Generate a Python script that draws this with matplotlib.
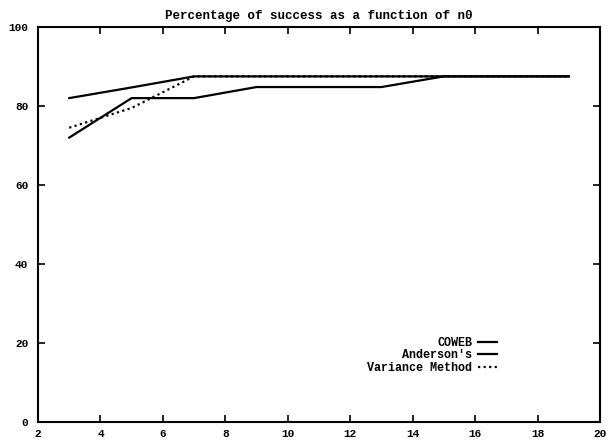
import matplotlib
matplotlib.use("Agg")
import matplotlib.pyplot as plt

n0 = [3, 5, 7, 9, 11, 13, 15, 17, 19]
coweb = [82, 84.7, 87.5, 87.5, 87.5, 87.5, 87.5, 87.5, 87.5]
anderson = [72, 82, 82, 84.8, 84.8, 84.8, 87.5, 87.5, 87.5]
variance = [74.5, 79.5, 87.5, 87.5, 87.5, 87.5, 87.5, 87.5, 87.5]
labels = ["COWEB", "Anderson's", "Variance Method"]
xticks = [2, 4, 6, 8, 10, 12, 14, 16, 18, 20]
yticks = [0, 20, 40, 60, 80, 100]
title = "Percentage of success as a function of n0"

plt.rcParams['font.family'] = ['Liberation Mono', 'DejaVu Sans']
plt.rcParams['font.weight'] = 'bold'

fig = plt.figure(figsize=(6.08, 4.40), dpi=100)
ax = fig.add_axes([38/608, 1-422/440, 562/608, 395/440])

ax.plot(n0, coweb, color='black', lw=1.6, label=labels[0])
ax.plot(n0, anderson, color='black', lw=1.6, label=labels[1])
ax.plot(n0, variance, color='black', lw=1.6, linestyle=(0, (1, 1.5)), label=labels[2])

ax.set_xlim(2, 20)
ax.set_ylim(0, 100)
ax.set_xticks(xticks)
ax.set_yticks(yticks)
ax.tick_params(direction='in', length=5, width=1.2, top=True, right=True,
               labelsize=8)
ax.tick_params(axis='x', pad=5)
ax.tick_params(axis='y', pad=7)
for s in ax.spines.values():
    s.set_linewidth(1.5)
ax.set_title(title, fontsize=9, fontweight='bold', pad=6)

ax.legend(loc='lower right', bbox_to_anchor=(0.825, 0.11), markerfirst=False,
          frameon=False, fontsize=8.5, handlelength=1.6, handletextpad=0.5,
          labelspacing=0.05, borderaxespad=0)

fig.savefig("out.png", dpi=100)
